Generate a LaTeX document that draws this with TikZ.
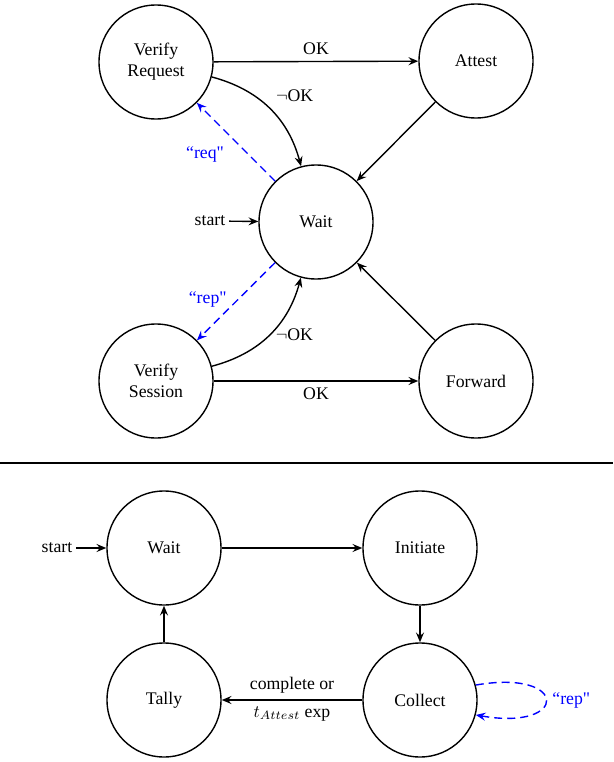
\documentclass[tikz,border=0pt]{standalone}
\usepackage{fontspec}
\setmainfont{Liberation Serif}
\newfontfamily\qfont{Liberation Serif}[Ligatures=TeXOff]
\newcommand{\sq}{{\qfont"}}
\usetikzlibrary{arrows.meta}
\begin{document}
\begin{tikzpicture}[x=0.575pt,y=-0.575pt,
  >={Stealth[length=5.6pt,width=4.6pt,inset=2pt]},
  st/.style={circle,draw,line width=0.8pt,minimum size=65.6pt,inner sep=0pt,align=center,font=\fontsize{10.2}{12.2}\selectfont},
  lbl/.style={font=\fontsize{10.2}{12.2}\selectfont},
  tr/.style={->,line width=0.8pt},
  msg/.style={->,line width=0.8pt,blue,dash pattern=on 4.6pt off 2.9pt},
  bl/.style={text=blue,font=\fontsize{10.2}{12.2}\selectfont}]
\useasboundingbox (0,0) rectangle (613,762);
% top machine
\node[st] (vr) at (156,62) {Verify\\Request};
\node[st] (at) at (476,61) {Attest};
\node[st] (w) at (316,222) {Wait};
\node[st] (vs) at (156,381) {Verify\\Session};
\node[st] (fw) at (476,381) {Forward};
\node[lbl,inner sep=2pt] (s1) at (210,221) {start};
\draw[tr] (s1) -- (w);
\draw[tr] (vr) -- node[lbl,above] {OK} (at);
\draw[tr] (vr) to[bend left=30] node[lbl,pos=0.5,above right] {$\neg$OK} (w);
\draw[msg] (w) -- node[bl,pos=0.34,left=10.4pt] {“req\sq} (vr);
\draw[tr] (at) -- (w);
\draw[msg] (w) -- node[bl,pos=0.47,left=3pt] {“rep\sq} (vs);
\draw[tr] (vs) to[bend right=30] node[lbl,pos=0.5,right] {$\neg$OK} (w);
\draw[tr] (vs) -- node[lbl,below] {OK} (fw);
\draw[tr] (fw) -- (w);
% separator
\coordinate (l1) at (0,463);
\coordinate (l2) at (613,463);
\draw[line width=0.6pt] (l1) -- (l2);
% bottom machine
\node[st] (bw) at (164,548) {Wait};
\node[st] (bi) at (420,548) {Initiate};
\node[st] (bt) at (164,700) {Tally};
\node[st] (bc) at (420,700) {Collect};
\node[lbl,inner sep=2pt] (s2) at (57,548) {start};
\draw[tr] (s2) -- (bw);
\draw[tr] (bw) -- (bi);
\draw[tr] (bi) -- (bc);
\draw[tr] (bc) -- node[lbl,above] {complete or} node[lbl,below] {$t_{Attest}$ exp} (bt);
\draw[tr] (bt) -- (bw);
\draw[msg] (bc.15) .. controls +(-10:95) and +(10:95) .. node[bl,pos=0.5,right] {“rep\sq} (bc.-15);
\end{tikzpicture}
\end{document}
